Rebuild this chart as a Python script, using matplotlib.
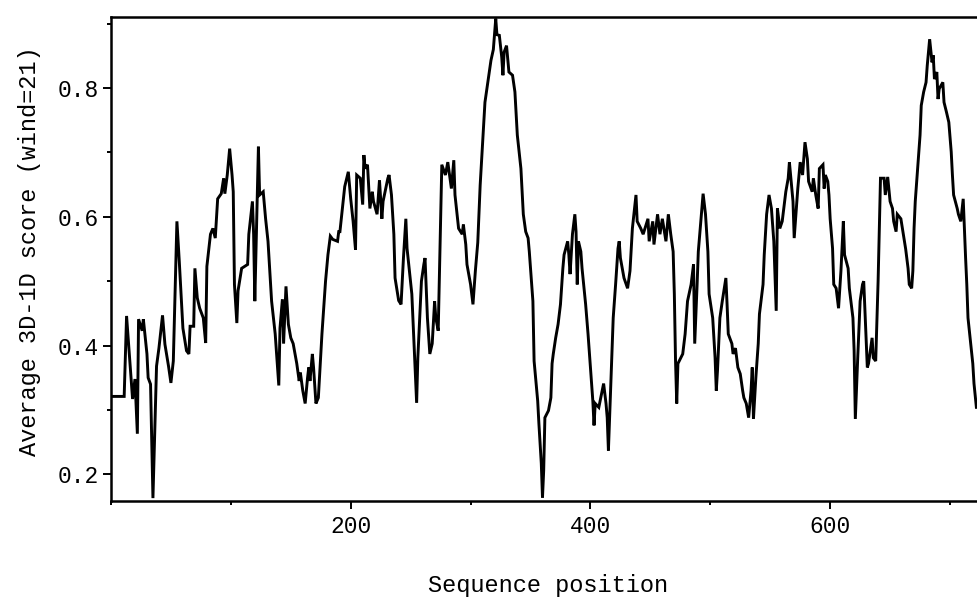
import matplotlib
matplotlib.use("Agg")
import matplotlib.pyplot as plt
from matplotlib.ticker import MultipleLocator, FormatStrFormatter

# Windowed (21 residues) average 3D-1D profile score along the sequence
position = [
    1, 11, 13, 18, 20, 22, 23, 26, 27, 30, 31, 33, 35, 38, 40, 43, 45, 48, 50, 52,
    55, 57, 60, 63, 65, 66, 69, 70, 72, 74, 77, 79, 80, 83, 85, 87, 89, 92, 94, 95,
    97, 99, 101, 102, 103, 105, 106, 109, 114, 115, 118, 119, 120, 123, 124, 127, 129, 131, 134, 137,
    140, 141, 143, 144, 146, 148, 150, 152, 155, 157, 158, 160, 162, 164, 165, 166, 168, 169, 171, 173,
    176, 179, 181, 183, 185, 189, 190, 191, 195, 198, 200, 202, 204, 205, 208, 210, 211, 212, 214, 216,
    218, 219, 222, 224, 226, 227, 231, 232, 234, 236, 237, 240, 242, 244, 246, 247, 251, 255, 256, 259,
    261, 262, 264, 266, 268, 270, 271, 273, 276, 279, 281, 284, 286, 287, 290, 293, 294, 296, 297, 300,
    302, 304, 306, 308, 312, 314, 317, 319, 321, 322, 324, 326, 327, 328, 330, 332, 335, 337, 339, 342,
    344, 346, 348, 349, 352, 353, 356, 357, 359, 360, 361, 362, 365, 367, 368, 369, 371, 372, 373, 375,
    377, 378, 381, 382, 383, 385, 387, 388, 389, 390, 392, 393, 396, 398, 402, 403, 404, 407, 411, 413,
    414, 415, 417, 419, 421, 423, 424, 425, 428, 431, 433, 435, 438, 439, 442, 444, 448, 449, 452, 453,
    456, 458, 460, 463, 465, 467, 469, 470, 471, 472, 473, 477, 479, 481, 484, 486, 487, 489, 490, 494,
    496, 498, 499, 502, 504, 505, 506, 508, 510, 513, 514, 515, 518, 519, 521, 523, 525, 527, 528, 530,
    532, 534, 535, 536, 538, 540, 541, 544, 545, 547, 549, 551, 553, 555, 556, 558, 560, 563, 565, 566,
    569, 570, 573, 574, 575, 577, 579, 581, 582, 585, 586, 588, 590, 591, 594, 595, 596, 598, 599, 600,
    602, 603, 605, 607, 609, 611, 612, 615, 616, 619, 620, 621, 623, 625, 627, 628, 630, 631, 632, 635,
    636, 638, 640, 642, 645, 646, 648, 650, 652, 653, 655, 656, 659, 661, 663, 665, 666, 668, 669, 670,
    671, 673, 675, 676, 678, 680, 681, 683, 685, 686, 687, 689, 690, 691, 694, 695, 697, 699, 701, 702,
    703, 706, 707, 709, 711, 712, 713, 714, 715, 717, 719, 720, 722, 724,
]
score = [
    0.321, 0.321, 0.446, 0.317, 0.348, 0.263, 0.441, 0.423, 0.441, 0.387, 0.350, 0.340, 0.163, 0.368, 0.396, 0.447, 0.402, 0.368, 0.342, 0.376,
    0.593, 0.530, 0.427, 0.392, 0.387, 0.430, 0.430, 0.520, 0.474, 0.458, 0.443, 0.404, 0.523, 0.573, 0.582, 0.567, 0.628, 0.636, 0.660, 0.636,
    0.665, 0.706, 0.665, 0.639, 0.495, 0.435, 0.485, 0.520, 0.526, 0.573, 0.624, 0.573, 0.469, 0.709, 0.634, 0.639, 0.597, 0.562, 0.469, 0.418,
    0.338, 0.427, 0.472, 0.403, 0.492, 0.433, 0.412, 0.403, 0.372, 0.345, 0.358, 0.330, 0.310, 0.350, 0.366, 0.345, 0.387, 0.366, 0.310, 0.319,
    0.418, 0.500, 0.541, 0.570, 0.565, 0.562, 0.577, 0.577, 0.647, 0.670, 0.628, 0.593, 0.549, 0.665, 0.660, 0.619, 0.696, 0.675, 0.681, 0.613,
    0.639, 0.624, 0.604, 0.657, 0.597, 0.624, 0.660, 0.665, 0.634, 0.573, 0.505, 0.470, 0.464, 0.536, 0.597, 0.551, 0.480, 0.311, 0.381, 0.500,
    0.526, 0.536, 0.443, 0.387, 0.403, 0.469, 0.443, 0.423, 0.681, 0.665, 0.685, 0.644, 0.688, 0.634, 0.582, 0.573, 0.588, 0.557, 0.526, 0.495,
    0.464, 0.516, 0.560, 0.649, 0.778, 0.804, 0.843, 0.860, 0.908, 0.883, 0.882, 0.848, 0.820, 0.856, 0.866, 0.825, 0.820, 0.794, 0.727, 0.675,
    0.604, 0.577, 0.567, 0.546, 0.469, 0.376, 0.314, 0.279, 0.217, 0.164, 0.206, 0.288, 0.299, 0.319, 0.372, 0.387, 0.412, 0.423, 0.433, 0.464,
    0.520, 0.541, 0.562, 0.541, 0.511, 0.573, 0.604, 0.577, 0.495, 0.562, 0.546, 0.520, 0.464, 0.418, 0.314, 0.276, 0.310, 0.304, 0.341, 0.310,
    0.288, 0.237, 0.341, 0.443, 0.495, 0.551, 0.562, 0.536, 0.505, 0.489, 0.516, 0.582, 0.634, 0.593, 0.582, 0.573, 0.597, 0.562, 0.593, 0.557,
    0.604, 0.573, 0.597, 0.562, 0.604, 0.573, 0.546, 0.480, 0.376, 0.310, 0.372, 0.387, 0.418, 0.469, 0.495, 0.526, 0.403, 0.495, 0.546, 0.636,
    0.604, 0.546, 0.480, 0.443, 0.381, 0.330, 0.361, 0.443, 0.469, 0.505, 0.464, 0.418, 0.403, 0.387, 0.396, 0.366, 0.356, 0.330, 0.319, 0.310,
    0.288, 0.330, 0.366, 0.286, 0.350, 0.403, 0.449, 0.495, 0.541, 0.604, 0.634, 0.613, 0.562, 0.454, 0.613, 0.582, 0.593, 0.639, 0.660, 0.685,
    0.624, 0.567, 0.644, 0.665, 0.685, 0.665, 0.716, 0.690, 0.655, 0.639, 0.660, 0.634, 0.613, 0.675, 0.681, 0.644, 0.665, 0.655, 0.634, 0.597,
    0.551, 0.495, 0.489, 0.458, 0.516, 0.593, 0.541, 0.520, 0.489, 0.443, 0.392, 0.286, 0.381, 0.469, 0.495, 0.500, 0.412, 0.366, 0.372, 0.412,
    0.381, 0.376, 0.500, 0.660, 0.660, 0.634, 0.662, 0.624, 0.613, 0.593, 0.577, 0.604, 0.597, 0.573, 0.550, 0.520, 0.495, 0.489, 0.516, 0.582,
    0.624, 0.675, 0.727, 0.773, 0.794, 0.809, 0.835, 0.876, 0.840, 0.851, 0.814, 0.825, 0.783, 0.799, 0.809, 0.778, 0.763, 0.747, 0.701, 0.665,
    0.634, 0.613, 0.604, 0.593, 0.628, 0.582, 0.536, 0.495, 0.443, 0.407, 0.372, 0.341, 0.304, 0.304,
]

x_ticks = [200, 400, 600]
y_ticks = [0.2, 0.4, 0.6, 0.8]

plt.rcParams["font.family"] = ["Liberation Mono", "DejaVu Sans Mono"]

fig = plt.figure(figsize=(9.77, 6.02), dpi=100)
ax = fig.add_axes([0.1136, 0.1683, 0.8870, 0.8040])

ax.plot(position, score, color="black", linewidth=2.1, solid_joinstyle="miter")

ax.set_xlim(0, 723)
ax.set_ylim(0.159, 0.911)

ax.set_xticks(x_ticks)
ax.xaxis.set_minor_locator(MultipleLocator(100))
ax.set_yticks(y_ticks)
ax.yaxis.set_minor_locator(MultipleLocator(0.1))
ax.yaxis.set_major_formatter(FormatStrFormatter("%.1f"))

ax.tick_params(which="major", direction="out", length=5.5, width=1.4,
               labelsize=16.5, colors="black")
ax.tick_params(which="minor", direction="out", length=3, width=1.4)
ax.tick_params(axis="x", which="major", pad=5)
ax.tick_params(axis="y", which="major", pad=3)

for side in ("left", "bottom", "top"):
    ax.spines[side].set_linewidth(1.8)
ax.spines["right"].set_visible(False)

ax.set_xlabel("Sequence position", fontsize=17, labelpad=26)
ax.set_ylabel("Average 3D-1D score (wind=21)", fontsize=17, labelpad=12)
ax.xaxis.label.set_x(0.504)
ax.yaxis.label.set_y(0.516)

fig.savefig("out.png", dpi=100, facecolor="white")
